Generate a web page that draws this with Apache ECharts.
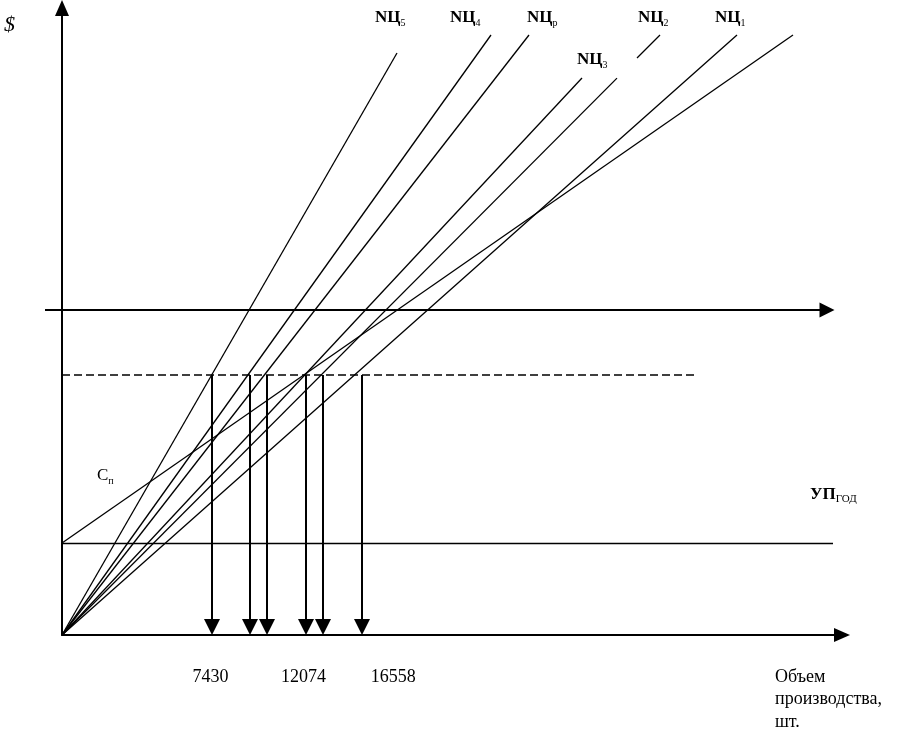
<!DOCTYPE html>
<html>
<head>
<meta charset="utf-8">
<script src="https://cdn.jsdelivr.net/npm/echarts@6/dist/echarts.min.js"></script>
<style>
html,body{margin:0;padding:0;background:#fff;}
#c{width:907px;height:736px;}
</style>
</head>
<body>
<div id="c"></div>
<script>
// ---- data (x: production volume, units; y: $, arbitrary units) ----
const priceNames = ['NЦ5', 'NЦ4', 'NЦр', 'NЦ3', 'NЦ2', 'NЦ1'];
const priceEndX  = [16750, 21450, 23350, 26000, 29900, 33750];
const priceEndY  = [582, 600, 600, 557, 600, 600];
const gapNЦ2     = [27750, 28750];          // scan gap in the NЦ2 line
const fixedCost  = 92;                       // Cп
const fixedCostEndX = 38550;
const costEnd    = [36550, 600];             // total cost line from (0, Cп)
const targetLevel = 325;                     // upper horizontal line
const targetStartX = -850, targetEndX = 38250;
const dashedLevel = 260;
const dashedEndX = 31750;
const arrowX = [7500, 9400, 10250, 12200, 13050, 15000];
const breakEven = [7430, 12074, 16558];
const xMax = 39000, yMax = 627;

const font = 'Liberation Serif, Times New Roman, serif';

function slope(i){ return priceEndY[i] / priceEndX[i]; }
const rayData = [];
priceNames.forEach((n, i) => {
  if (n === 'NЦ2') {
    rayData.push({coords: [[0, 0], [gapNЦ2[0], gapNЦ2[0] * slope(i)]]});
    rayData.push({coords: [[gapNЦ2[1], gapNЦ2[1] * slope(i)], [priceEndX[i], priceEndY[i]]]});
  } else {
    rayData.push({coords: [[0, 0], [priceEndX[i], priceEndY[i]]]});
  }
});

const chart = echarts.init(document.getElementById('c'), null, {renderer: 'canvas'});
const axisLine = {show: true, symbol: ['none', 'triangle'], symbolSize: [14, 16],
                  lineStyle: {color: '#000', width: 2}};
chart.setOption({
  animation: false,
  backgroundColor: '#fff',
  grid: {left: 62, right: 65, top: 8, bottom: 101},
  xAxis: {type: 'value', min: 0, max: xMax, axisLine: axisLine,
          axisTick: {show: false}, splitLine: {show: false},
          axisLabel: {customValues: breakEven, formatter: v => String(v), color: '#000',
                      fontFamily: font, fontSize: 18, margin: 33}},
  yAxis: {type: 'value', min: 0, max: yMax, axisLine: axisLine,
          axisTick: {show: false}, splitLine: {show: false}, axisLabel: {show: false}},
  series: [
    {type: 'lines', coordinateSystem: 'cartesian2d', clip: false, silent: true,
     lineStyle: {color: '#000', width: 1.3, opacity: 1}, data: rayData},
    {type: 'lines', coordinateSystem: 'cartesian2d', clip: false, silent: true,
     lineStyle: {color: '#000', width: 1.3, opacity: 1},
     data: [{coords: [[0, fixedCost], costEnd]},
            {coords: [[0, fixedCost], [fixedCostEndX, fixedCost]]}]},
    {type: 'lines', coordinateSystem: 'cartesian2d', clip: false, silent: true,
     symbol: ['none', 'triangle'], symbolSize: 15,
     lineStyle: {color: '#000', width: 2, opacity: 1},
     data: [{coords: [[targetStartX, targetLevel], [targetEndX, targetLevel]]}]},
    {type: 'lines', coordinateSystem: 'cartesian2d', clip: false, silent: true,
     lineStyle: {color: '#000', width: 1.5, type: [8, 4], opacity: 1},
     data: [{coords: [[0, dashedLevel], [dashedEndX, dashedLevel]]}]},
    {type: 'lines', coordinateSystem: 'cartesian2d', clip: false, silent: true,
     symbol: ['none', 'triangle'], symbolSize: 16,
     lineStyle: {color: '#000', width: 2, opacity: 1},
     data: arrowX.map(x => ({coords: [[x, dashedLevel], [x, 8]]}))}
  ],
  graphic: [
    {type: 'text', left: 4, top: 14, style: {text: '$', font: 'italic 22px ' + font, fill: '#000'}},
    ...[['5', 375, 18], ['4', 450, 18], ['р', 527, 18], ['3', 577, 60], ['2', 638, 18], ['1', 715, 18]].map(([s, x, y]) => ({
      type: 'text', x: x, y: y,
      style: {text: '{n|NЦ}{s|' + s + '}', verticalAlign: 'middle', fill: '#000',
              rich: {n: {fontFamily: font, fontWeight: 'bold', fontSize: 17, lineHeight: 20},
                     s: {fontFamily: font, fontSize: 10, verticalAlign: 'bottom'}}}
    })),
    {type: 'text', x: 97, y: 476,
     style: {text: '{n|C}{s|п}', verticalAlign: 'middle', fill: '#000',
             rich: {n: {fontFamily: font, fontSize: 17, lineHeight: 20},
                    s: {fontFamily: font, fontSize: 10, verticalAlign: 'bottom'}}}},
    {type: 'text', x: 810, y: 495,
     style: {text: '{n|УП}{s|ГОД}', verticalAlign: 'middle', fill: '#000',
             rich: {n: {fontFamily: font, fontWeight: 'bold', fontSize: 17, lineHeight: 20},
                    s: {fontFamily: font, fontSize: 11, verticalAlign: 'bottom'}}}},
    {type: 'text', x: 775, y: 666,
     style: {text: 'Объем\nпроизводства,\nшт.', font: '18px ' + font, lineHeight: 22.5, fill: '#000'}}
  ]
});
</script>
</body>
</html>
